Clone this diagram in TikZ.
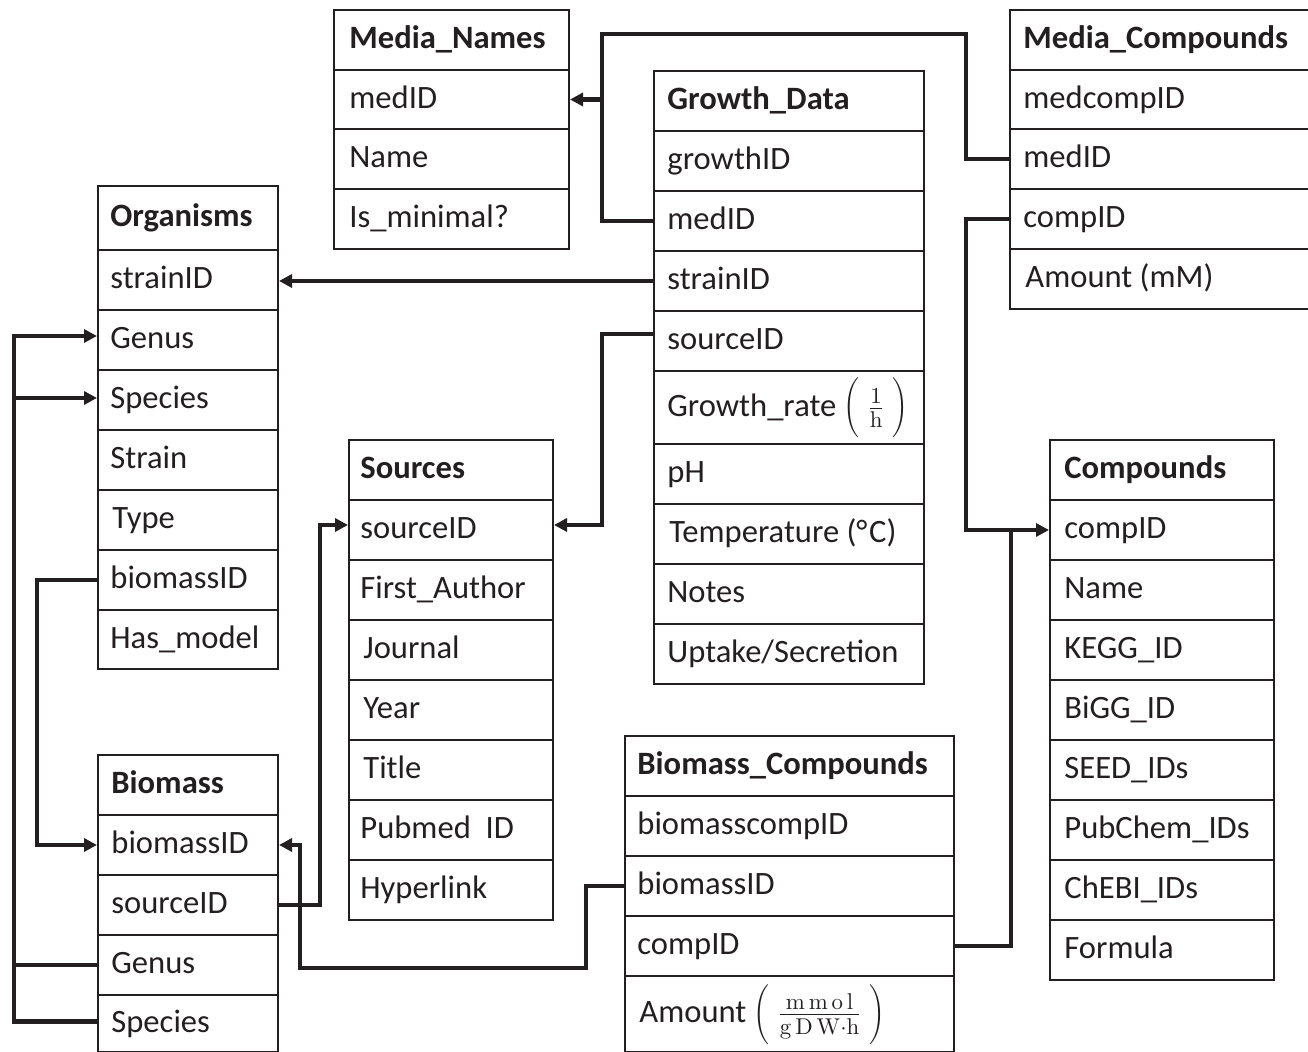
\RequirePackage{fix-cm}
\documentclass[tikz,border=0pt]{standalone}
\usepackage[no-math]{fontspec}
\setmainfont{Carlito}
\usetikzlibrary{arrows.meta}
\definecolor{ink}{RGB}{35,31,32}
\newcommand\mkrow[7]{%
  \node[cell, minimum width=#4*0.5pt, minimum height=#5*0.5pt] (#1) at (#2,#3) {};
  \node[txt] (#1t) at ([xshift=#6*0.5pt]#1.west) {#7};}
\newcommand\tallfrac[2]{\left(\vcenter to 27pt{}\right.\frac{#1}{#2}\left.\vcenter to 27pt{}\right)}
\tikzset{
  cell/.style={draw=ink, line width=1pt, rectangle, inner sep=0pt, anchor=north west},
  txt/.style={inner sep=0pt, anchor=west, text height=8.8pt, text depth=0pt,
    font=\fontsize{16.3}{19.5}\selectfont, text=ink},
  conn/.style={draw=ink, line width=2.2pt, line join=miter},
  arr/.style={-{Triangle[length=6.5pt,width=6.5pt]}}
}
\begin{document}
\begin{tikzpicture}[x=0.5pt,y=-0.5pt]
\useasboundingbox (0,0) rectangle (1308,1052);
% Media_Names
\mkrow{mn1}{333}{9}{235}{60}{16}{\bfseries Media\_Names}
\mkrow{mn2}{333}{69}{235}{59}{16}{medID}
\mkrow{mn3}{333}{128}{235}{60}{16}{Name}
\mkrow{mn4}{333}{188}{235}{60}{16}{Is\_minimal?}
% Media_Compounds
\mkrow{mc1}{1009}{9}{302}{60}{14}{\bfseries Media\_Compounds}
\mkrow{mc2}{1009}{69}{302}{59}{14}{medcompID}
\mkrow{mc3}{1009}{128}{302}{60}{14}{medID}
\mkrow{mc4}{1009}{188}{302}{60}{14}{compID}
\mkrow{mc5}{1009}{248}{302}{60}{16}{Amount (mM)}
% Growth_Data
\mkrow{gd1}{653}{70}{270}{60}{14}{\bfseries Growth\_Data}
\mkrow{gd2}{653}{130}{270}{60}{14}{growthID}
\mkrow{gd3}{653}{190}{270}{60}{14}{medID}
\mkrow{gd4}{653}{250}{270}{60}{14}{strainID}
\mkrow{gd5}{653}{310}{270}{60}{14}{sourceID}
\mkrow{gd6}{653}{370}{270}{73}{14}{Growth\_rate $\tallfrac{1}{\mathrm{h}}$}
\mkrow{gd7}{653}{443}{270}{60}{14}{pH}
\mkrow{gd8}{653}{503}{270}{60}{16}{Temperature (°\kern0.05em C)}
\mkrow{gd9}{653}{563}{270}{60}{14}{Notes}
\mkrow{gd10}{653}{623}{270}{60}{14}{Uptake/Secretion}
% Organisms
\mkrow{or1}{97}{185}{180}{64}{13}{\bfseries Organisms}
\mkrow{or2}{97}{249}{180}{60}{13}{strainID}
\mkrow{or3}{97}{309}{180}{60}{13}{Genus}
\mkrow{or4}{97}{369}{180}{60}{13}{Species}
\mkrow{or5}{97}{429}{180}{60}{13}{Strain}
\mkrow{or6}{97}{489}{180}{60}{15}{Type}
\mkrow{or7}{97}{549}{180}{60}{13}{biomassID}
\mkrow{or8}{97}{609}{180}{59}{13}{Has\_model}
% Sources
\mkrow{so1}{348}{439}{204}{60}{12}{\bfseries Sources}
\mkrow{so2}{348}{499}{204}{60}{12}{sourceID}
\mkrow{so3}{348}{559}{204}{60}{12}{First\_Author}
\mkrow{so4}{348}{619}{204}{60}{15}{Journal}
\mkrow{so5}{348}{679}{204}{60}{15}{Year}
\mkrow{so6}{348}{739}{204}{60}{15}{Title}
\mkrow{so7}{348}{799}{204}{60}{12}{Pubmed\ \ ID}
\mkrow{so8}{348}{859}{204}{60}{12}{Hyperlink}
% Compounds
\mkrow{cp1}{1049}{439}{224}{60}{15}{\bfseries Compounds}
\mkrow{cp2}{1049}{499}{224}{60}{15}{compID}
\mkrow{cp3}{1049}{559}{224}{60}{15}{Name}
\mkrow{cp4}{1049}{619}{224}{60}{15}{KEGG\_ID}
\mkrow{cp5}{1049}{679}{224}{60}{15}{BiGG\_ID}
\mkrow{cp6}{1049}{739}{224}{60}{15}{SEED\_IDs}
\mkrow{cp7}{1049}{799}{224}{60}{15}{PubChem\_IDs}
\mkrow{cp8}{1049}{859}{224}{60}{15}{ChEBI\_IDs}
\mkrow{cp9}{1049}{919}{224}{60}{15}{Formula}
% Biomass
\mkrow{bm1}{97}{754}{180}{60}{14}{\bfseries Biomass}
\mkrow{bm2}{97}{814}{180}{60}{14}{biomassID}
\mkrow{bm3}{97}{874}{180}{60}{14}{sourceID}
\mkrow{bm4}{97}{934}{180}{60}{14}{Genus}
\mkrow{bm5}{97}{994}{180}{57}{14}{Species}
% Biomass_Compounds
\mkrow{bc1}{624}{735}{329}{60}{13}{\bfseries Biomass\_Compounds}
\mkrow{bc2}{624}{795}{329}{60}{13}{biomasscompID}
\mkrow{bc3}{624}{855}{329}{60}{13}{biomassID}
\mkrow{bc4}{624}{915}{329}{60}{13}{compID}
\mkrow{bc5}{624}{975}{329}{76}{15}{Amount $\tallfrac{\mathrm{m\,m\,o\,l}}{\mathrm{g\,D\,W{\cdot}h}}$}
% bend coordinates
\coordinate (j1) at (602,34);
\coordinate (j2) at (966,34);
\coordinate (j3) at (966,0);
\coordinate (j4) at (1011,0);
\coordinate (k1) at (602,0);
\coordinate (b1) at (14,0);
\coordinate (b2) at (37,0);
\coordinate (b3) at (320,0);
\coordinate (b4) at (586,968);
\coordinate (b5) at (300,968);
\coordinate (gd5a) at ([yshift=3.5pt]gd5.west);
\coordinate (so2a) at ([yshift=2.5pt]so2.west);
\coordinate (so2b) at ([yshift=2.5pt]so2.east);
\coordinate (or3a) at ([yshift=2pt]or3.west);
\coordinate (or4a) at ([yshift=1pt]or4.west);
\coordinate (bm5a) at ([yshift=1pt]bm5.west);
% connectors
\draw[conn] (gd3.west) -| (j1) -- (j2) |- (mc3.west);
\draw[conn,arr] (mn2.east -| j1) -- (mn2.east);
\draw[conn,arr] (gd4.west) -- (gd4.west -| or2.east);
\draw[conn,arr] (gd5a) -| (k1 |- so2b) -- (so2b);
\draw[conn,arr] (mc4.west) -| (j3 |- cp2.west) -- (cp2.west);
\draw[conn] (bc4.east) -| (j4 |- cp2.west);
\draw[conn,arr] (bm5a) -| (b1 |- or3a) -- (or3a);
\draw[conn,arr] (b1 |- or4a) -- (or4a);
\draw[conn] (bm4.west) -- (b1 |- bm4.west);
\draw[conn,arr] (or7.west) -| (b2 |- bm2.west) -- (bm2.west);
\draw[conn,arr] (bm3.east) -| (b3 |- so2a) -- (so2a);
\draw[conn,arr] (bc3.west) -| (b4) -- (b5) -- (b5 |- bm2.east) -- (bm2.east);
\end{tikzpicture}
\end{document}
